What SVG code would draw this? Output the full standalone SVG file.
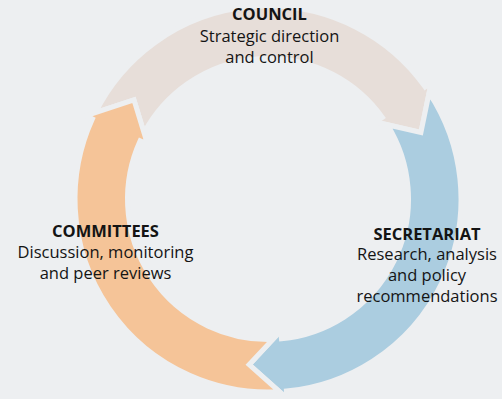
<svg xmlns="http://www.w3.org/2000/svg" width="502" height="399" viewBox="0 0 502 399">
<style>
  .bg { fill: #EDEFF1; }
  .arrow { stroke: #EDEFF1; stroke-width: 5; stroke-linejoin: miter; }
  .beige { fill: #E7DED9; }
  .blue { fill: #ABCDE0; }
  .orange { fill: #F5C498; }
  text { font-family: "Open Sans", "Noto Sans", "Liberation Sans", sans-serif; font-size: 16.5px; fill: #141414; text-anchor: middle; }
  .title { font-weight: 700; }
</style>
<rect class="bg" x="0" y="0" width="502" height="399"/>
<g id="connectors">
  <path id="arrow-council" class="arrow beige" d="M95.43,112.58 A193,193 0 0 1 425.13,86.92 L431.23,82.57 L420.92,132.51 L375.87,122.06 L382.38,117.41 A140.5,140.5 0 0 0 144.03,132.88 L133.96,99.81 Z"/>
  <path id="arrow-secretariat" class="arrow blue" d="M429.13,92.76 A193,193 0 0 1 286.50,391.11 L287.22,398.58 L249.12,364.68 L280.70,330.89 L281.47,338.85 A140.5,140.5 0 0 0 387.24,124.69 L420.92,132.51 Z"/>
  <path id="arrow-committees" class="arrow orange" d="M279.45,391.66 A193,193 0 0 1 92.38,118.96 L85.55,115.85 L133.96,99.81 L147.43,144.05 L140.15,140.74 A140.5,140.5 0 0 0 272.73,339.42 L249.12,364.68 Z"/>
</g>
<g id="council">
  <text class="title" x="269.5" y="20">COUNCIL</text>
  <text x="269.5" y="41.5">Strategic direction</text>
  <text x="269.5" y="62.5">and control</text>
</g>
<g id="secretariat">
  <text class="title" x="427" y="239.5">SECRETARIAT</text>
  <text x="427" y="260.3">Research, analysis</text>
  <text x="427" y="281.1">and policy</text>
  <text x="427" y="302.2">recommendations</text>
</g>
<g id="committees">
  <text class="title" x="105.5" y="236.5">COMMITTEES</text>
  <text x="105.5" y="257.5">Discussion, monitoring</text>
  <text x="105.5" y="278.5">and peer reviews</text>
</g>
</svg>
